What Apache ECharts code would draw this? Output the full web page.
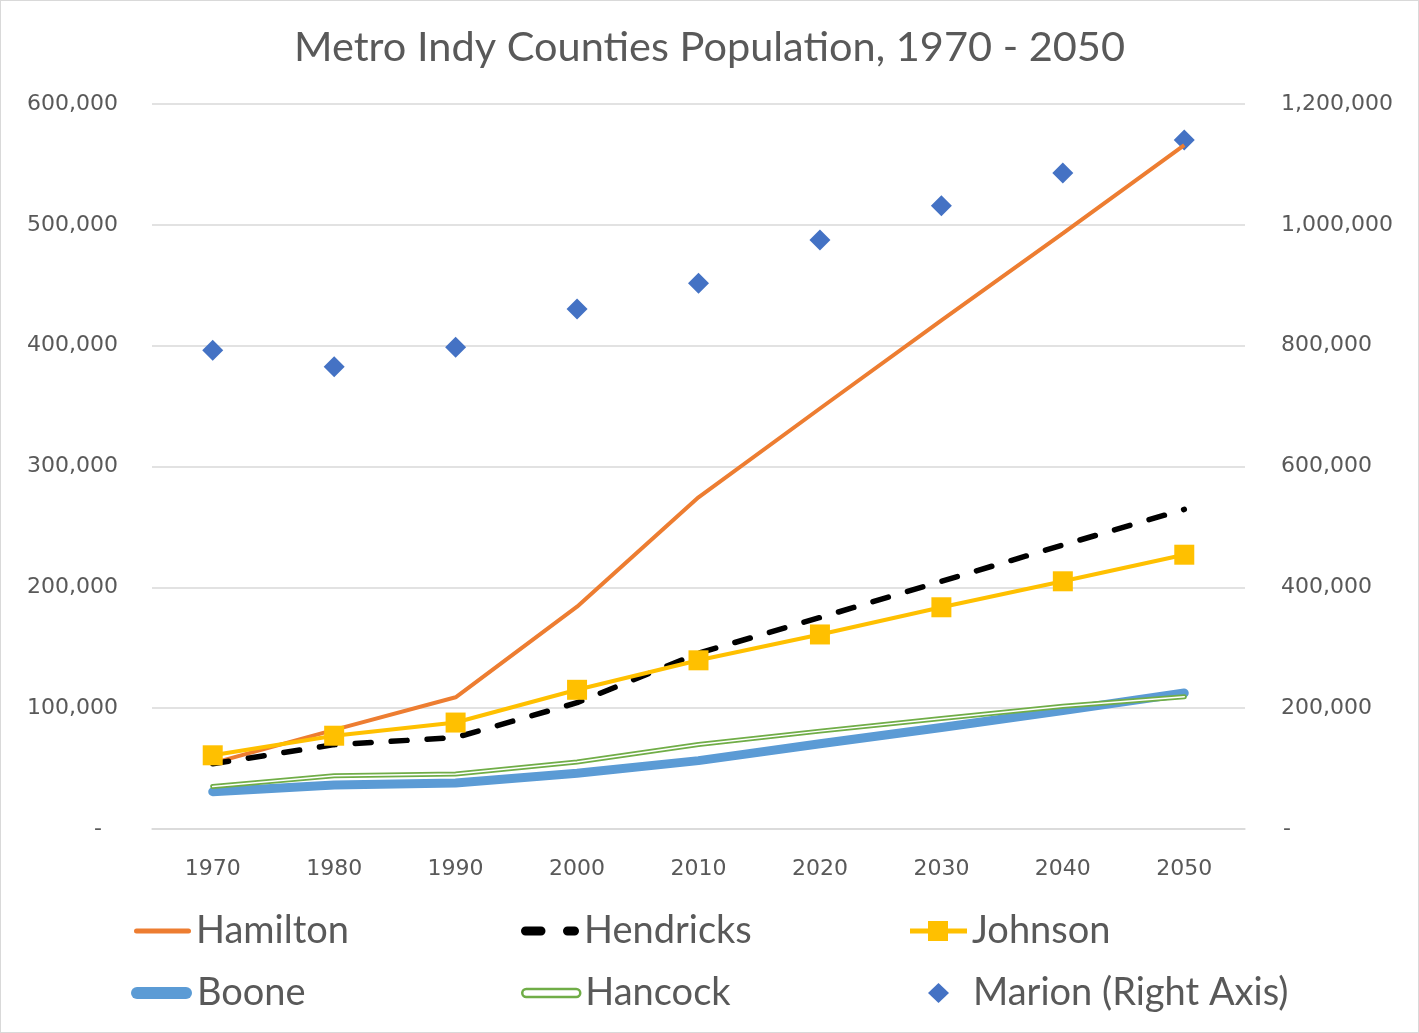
<!DOCTYPE html>
<html>
<head>
<meta charset="utf-8">
<script src="https://cdn.jsdelivr.net/npm/echarts@6/dist/echarts.min.js"></script>
<style>
html,body{margin:0;padding:0;background:#fff;}
#chart{width:1417px;height:1031px;border:1px solid #D9D9D9;}
</style>
</head>
<body>
<div id="chart"></div>
<script>
const years = ['1970','1980','1990','2000','2010','2020','2030','2040','2050'];
const hamilton  = [54500, 82000, 109000, 184000, 274500, 348000, 421000, 493000, 566000];
const hendricks = [54000, 69800, 75700, 104500, 145500, 175000, 205000, 235000, 264500];
const johnson   = [61000, 77200, 88100, 115200, 139600, 161000, 183500, 205000, 227000];
const boone     = [30900, 36400, 38100, 46100, 56600, 70500, 84000, 98000, 112500];
const hancock   = [35100, 44000, 45500, 55400, 70000, 81000, 91500, 101500, 109500];
const marion    = [792300, 765200, 797200, 860500, 903400, 975000, 1031500, 1086000, 1140500];
const leftTicks  = {min: 0, max: 600000, interval: 100000};
const rightTicks = {min: 0, max: 1200000, interval: 200000};

const TXT = '#595959';
const AXF = 'DejaVu Sans';
const LGF = 'Lato';
const fmt = v => v === 0 ? '{d|-}' : v.toLocaleString('en-US');

const chart = echarts.init(document.getElementById('chart'));

function lg(item, left, top, w, h, extra) {
  return Object.assign({
    data: [item], left: left, top: top, itemWidth: w, itemHeight: h,
    padding: 0, itemGap: 0,
    textStyle: {fontFamily: LGF, fontSize: 38, color: TXT}
  }, extra || {});
}

chart.setOption({
  animation: false,
  title: {
    text: 'Metro Indy Counties Population, 1970 - 2050',
    left: 'center', top: 21,
    textStyle: {fontFamily: LGF, fontSize: 41.5, fontWeight: 'normal', color: TXT}
  },
  grid: {left: 151, right: 173, top: 103, bottom: 203, containLabel: false},
  legend: [
    lg({name: 'Hamilton', icon: 'path://M2.5,0H54.5A2.5,2.5,0,0,1,54.5,5H2.5A2.5,2.5,0,0,1,2.5,0Z'}, 133, 911, 57, 5),
    lg({name: 'Hendricks', icon: 'path://M4.5,0H20A4.5,4.5,0,0,1,20,9H4.5A4.5,4.5,0,0,1,4.5,0Z M46.5,0H53.5A4.5,4.5,0,0,1,53.5,9H46.5A4.5,4.5,0,0,1,46.5,0Z'}, 520, 911, 58, 9),
    lg({name: 'Johnson', icon: 'path://M0,7.5H18V0H38V7.5H57V12.5H38V20H18V12.5H0Z'}, 909, 911, 57, 20),
    lg({name: 'Boone', icon: 'path://M6,0H55A6,6,0,0,1,55,12H6A6,6,0,0,1,6,0Z'}, 130, 973, 61, 12),
    lg({name: 'Hancock', icon: 'path://M4,0H54A4,4,0,0,1,54,8H4A4,4,0,0,1,4,0Z',
        itemStyle: {color: '#fff', borderColor: '#70AD47', borderWidth: 2.5}}, 520, 973, 58, 8),
    lg({name: 'Marion (Right Axis)', icon: 'diamond'}, 927, 973, 21, 20,
       {textStyle: {fontFamily: LGF, fontSize: 38, color: TXT, padding: [0, 0, 0, 19]}})
  ],
  xAxis: {
    type: 'category', data: years, boundaryGap: true,
    axisLine: {show: true, lineStyle: {color: '#D9D9D9', width: 1.5}},
    axisTick: {show: false},
    axisLabel: {color: TXT, fontFamily: AXF, fontSize: 22, margin: 29}
  },
  yAxis: [
    {type: 'value', min: leftTicks.min, max: leftTicks.max, interval: leftTicks.interval, position: 'left',
     axisLine: {show: false}, axisTick: {show: false},
     splitLine: {lineStyle: {color: '#D9D9D9', width: 1.5}},
     axisLabel: {color: TXT, fontFamily: AXF, fontSize: 22, margin: 34, formatter: fmt,
                 rich: {d: {fontFamily: AXF, fontSize: 22, color: TXT, padding: [0, 16, 0, 0]}}}},
    {type: 'value', min: rightTicks.min, max: rightTicks.max, interval: rightTicks.interval, position: 'right',
     axisLine: {show: false}, axisTick: {show: false}, splitLine: {show: false},
     axisLabel: {color: TXT, fontFamily: AXF, fontSize: 22, margin: 36, formatter: fmt,
                 rich: {d: {fontFamily: AXF, fontSize: 22, color: TXT, padding: [0, 0, 0, 2]}}}}
  ],
  series: [
    {name: 'Hamilton', type: 'line', data: hamilton, showSymbol: false, symbol: 'none',
     itemStyle: {color: '#ED7D31'}, lineStyle: {color: '#ED7D31', width: 4}},
    {name: 'Hendricks', type: 'line', data: hendricks, showSymbol: false, symbol: 'none',
     itemStyle: {color: '#000'}, lineStyle: {color: '#000', width: 5.5, type: [16, 20], cap: 'round'}},
    {name: 'Johnson', type: 'line', data: johnson, symbol: 'rect', symbolSize: 20,
     itemStyle: {color: '#FFC000', opacity: 1}, lineStyle: {color: '#FFC000', width: 4}},
    {name: 'Boone', type: 'line', data: boone, showSymbol: false, symbol: 'none',
     itemStyle: {color: '#5B9BD5'}, lineStyle: {color: '#5B9BD5', width: 9, cap: 'round', join: 'round'}},
    {name: 'Hancock', type: 'line', data: hancock, showSymbol: false, symbol: 'none',
     itemStyle: {color: '#70AD47'}, lineStyle: {color: '#70AD47', width: 5, cap: 'round', join: 'round'}},
    {name: 'Hancock inner', type: 'line', data: hancock, showSymbol: false, symbol: 'none', silent: true,
     itemStyle: {color: '#fff'}, lineStyle: {color: '#fff', width: 1.5, cap: 'round', join: 'round'}},
    {name: 'Marion (Right Axis)', type: 'scatter', yAxisIndex: 1, data: marion, symbol: 'diamond', symbolSize: 21,
     itemStyle: {color: '#4472C4', opacity: 1}}
  ]
});
</script>
</body>
</html>
